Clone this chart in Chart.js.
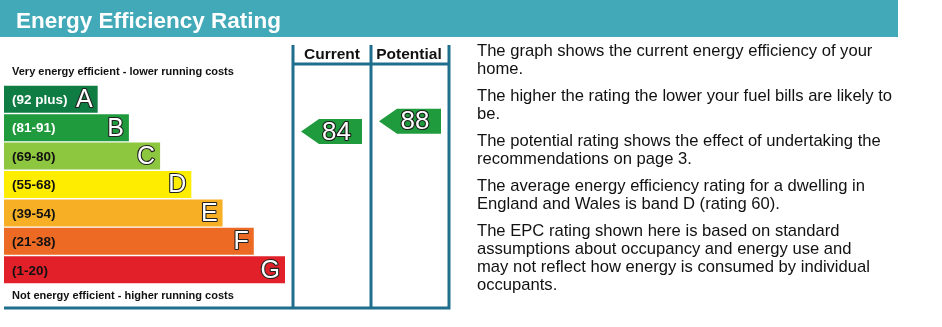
<!DOCTYPE html>
<html>
<head>
<meta charset="utf-8">
<script src="https://cdn.jsdelivr.net/npm/chart.js@4.4.1/dist/chart.umd.min.js"></script>
<style>
  html, body { margin: 0; padding: 0; background: #fff; }
  #wrap { position: relative; width: 942px; height: 327px; overflow: hidden; }
  #epc { position: absolute; left: 0; top: 0; }
  #notes {
    position: absolute; left: 477px; top: 42px; width: 450px;
    font-family: "Liberation Sans", Arial, sans-serif; font-size: 16.6px;
    line-height: 18px; color: #111;
  }
  #notes p { margin: 0 0 9px 0; }
</style>
</head>
<body>
<div id="wrap">
  <canvas id="epc" width="942" height="327"></canvas>
  <div id="notes">
    <p>The graph shows the current energy efficiency of your<br>home.</p>
    <p>The higher the rating the lower your fuel bills are likely to<br>be.</p>
    <p>The potential rating shows the effect of undertaking the<br>recommendations on page 3.</p>
    <p>The average energy efficiency rating for a dwelling in<br>England and Wales is band D (rating 60).</p>
    <p>The EPC rating shown here is based on standard<br>assumptions about occupancy and energy use and<br>may not reflect how energy is consumed by individual<br>occupants.</p>
  </div>
</div>
<script>
// Bands, top (most efficient) to bottom
const bands = ['A', 'B', 'C', 'D', 'E', 'F', 'G'];
const rangeLabels = ['(92 plus)', '(81-91)', '(69-80)', '(55-68)', '(39-54)', '(21-38)', '(1-20)'];
const bandLow = [92, 81, 69, 55, 39, 21, 1];
const bandHigh = [100, 91, 80, 68, 54, 38, 20];
const barLengths = [3, 4, 5, 6, 7, 8, 9];
const bandColours = ['#0f7c43', '#1f9a3c', '#8dc63f', '#ffed00', '#f7b026', '#ec6a24', '#e1202a'];
const rangeTextColours = ['#fff', '#fff', '#111', '#111', '#111', '#111', '#111'];

// Ratings shown in the two columns
const columnTitles = ['Current', 'Potential'];
const ratings = [84, 88];

const FONT = '"Liberation Sans", Arial, sans-serif';
const FRAME = '#1f6e8e';

function bandIndex(v) {
    for (let i = 0; i < bands.length; i++) {
        if (v >= bandLow[i] && v <= bandHigh[i]) return i;
    }
    return bands.length - 1;
}

// rating -> pixel, placed inside its band row on the category axis
function ratingToY(yScale, v) {
    const i = bandIndex(v);
    const frac = (bandHigh[i] - v) / (bandHigh[i] - bandLow[i] + 1);
    return yScale.getPixelForValue(i - 0.5 + frac);
}

function outlinedText(ctx, txt, x, y, fill, stroke, lw) {
    ctx.lineJoin = 'round';
    ctx.lineWidth = lw;
    ctx.strokeStyle = stroke;
    ctx.strokeText(txt, x, y);
    ctx.fillStyle = fill;
    ctx.fillText(txt, x, y);
}

const epcPlugin = {
    id: 'epcFrame',
    beforeDraw(chart) {
        const ctx = chart.ctx;
        ctx.save();
        // header band
        ctx.fillStyle = '#42a9b8';
        ctx.fillRect(0, 0, 898, 37);
        ctx.fillStyle = '#fff';
        ctx.font = 'bold 22.5px ' + FONT;
        ctx.textBaseline = 'alphabetic';
        ctx.textAlign = 'left';
        ctx.fillText('Energy Efficiency Rating', 16, 28);

        // side captions
        ctx.fillStyle = '#111';
        ctx.font = 'bold 11px ' + FONT;
        ctx.fillText('Very energy efficient - lower running costs', 12, 75);
        ctx.fillText('Not energy efficient - higher running costs', 12, 299);

        // frame lines
        ctx.strokeStyle = FRAME;
        ctx.lineWidth = 3;
        ctx.beginPath();
        ctx.moveTo(4, 308); ctx.lineTo(450, 308);
        [293, 371, 449].forEach(x => { ctx.moveTo(x, 45); ctx.lineTo(x, 309.5); });
        ctx.moveTo(293, 64); ctx.lineTo(449, 64);
        ctx.stroke();

        // column headings
        ctx.fillStyle = '#111';
        ctx.font = 'bold 15.5px ' + FONT;
        ctx.textAlign = 'center';
        ctx.fillText(columnTitles[0], 332, 59);
        ctx.fillText(columnTitles[1], 409, 59);
        ctx.restore();
    },
    afterDatasetsDraw(chart) {
        const ctx = chart.ctx;
        const meta = chart.getDatasetMeta(0);
        ctx.save();
        meta.data.forEach((bar, i) => {
            ctx.textBaseline = 'middle';
            ctx.textAlign = 'left';
            ctx.font = 'bold 13.5px ' + FONT;
            ctx.fillStyle = rangeTextColours[i];
            ctx.fillText(rangeLabels[i], 12, bar.y + 1);
            ctx.textAlign = 'right';
            ctx.font = '25px ' + FONT;
            outlinedText(ctx, bands[i], bar.x - 5, bar.y + 1, '#fff', '#222', 2.2);
        });

        // rating arrows
        const yScale = chart.scales.y;
        const cols = [[301, 362], [379, 441]];
        ratings.forEach((r, k) => {
            const cy = ratingToY(yScale, r);
            const i = bandIndex(r);
            const [l, rr] = cols[k];
            const h = 25;
            ctx.fillStyle = bandColours[i];
            ctx.beginPath();
            ctx.moveTo(l, cy);
            ctx.lineTo(l + 18, cy - h / 2);
            ctx.lineTo(rr, cy - h / 2);
            ctx.lineTo(rr, cy + h / 2);
            ctx.lineTo(l + 18, cy + h / 2);
            ctx.closePath();
            ctx.fill();
            ctx.font = '26px ' + FONT;
            ctx.textAlign = 'center';
            ctx.textBaseline = 'middle';
            outlinedText(ctx, String(r), (l + rr) / 2 + 5, cy + 1, '#fff', '#1a1a1a', 2.2);
        });
        ctx.restore();
    }
};

function createEpcChart() {
    const ctx = document.getElementById('epc').getContext('2d');
    new Chart(ctx, {
        type: 'bar',
        data: {
            labels: bands,
            datasets: [{
                data: barLengths,
                backgroundColor: bandColours,
                borderWidth: 0,
                barPercentage: 0.95,
                categoryPercentage: 1
            }]
        },
        options: {
            indexAxis: 'y',
            responsive: false,
            animation: false,
            layout: { padding: { left: 4, top: 85, right: 657, bottom: 43 } },
            scales: {
                x: { display: false, min: 0, max: 9 },
                y: { display: false }
            },
            plugins: {
                legend: { display: false },
                tooltip: { enabled: false }
            }
        },
        plugins: [epcPlugin]
    });
}

window.onload = function() {
    createEpcChart();
};
</script>
</body>
</html>
